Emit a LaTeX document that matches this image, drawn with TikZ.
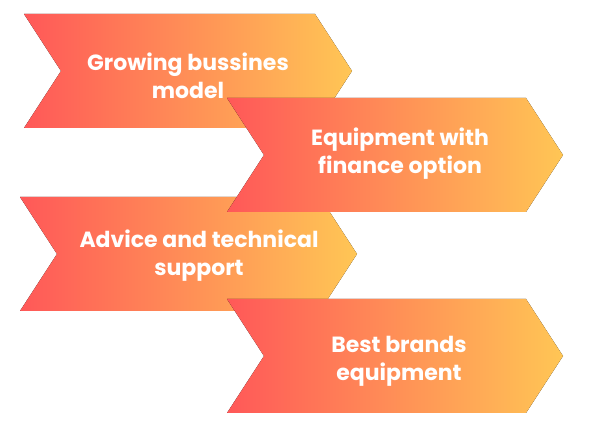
\documentclass[tikz,border=0pt]{standalone}
\usepackage{fontspec}
\setmainfont{Poppins}
\definecolor{cleft}{HTML}{FF5858}
\definecolor{cright}{HTML}{FFC655}
\tikzset{
  chev/.style={left color=cleft, right color=cright, draw=none},
  lbl/.style={text=white, font=\fontsize{22}{28}\selectfont\bfseries, align=center, inner sep=0pt}
}
% #1 left x, #2 tip x, #3 top y, #4 bottom y (pixel coords from top)
\newcommand\chevshape[4]{%
  \fill[chev] (#1,{428-#3}) -- ({#2-37},{428-#3}) -- (#2,{428-(#3+#4)/2})
    -- ({#2-37},{428-#4}) -- (#1,{428-#4}) -- ({#1+37},{428-(#3+#4)/2}) -- cycle;}
\begin{document}
\begin{tikzpicture}[x=1pt,y=1pt]
\useasboundingbox (0,0) rectangle (590,428);
\chevshape{24}{352}{14}{128}
\chevshape{20}{357}{197}{311}
\chevshape{227}{563}{98}{212}
\chevshape{227}{563}{299}{413}
\node[lbl] (t1) at (188,{428-76}) {Growing bussines\\model};
\node[lbl] (t2) at (400,{428-154}) {Equipment with\\finance option};
\node[lbl] (t3) at (199,{428-255.5}) {Advice and technical\\support};
\node[lbl] (t4) at (399,{428-361.5}) {Best brands\\equipment};
\end{tikzpicture}
\end{document}
